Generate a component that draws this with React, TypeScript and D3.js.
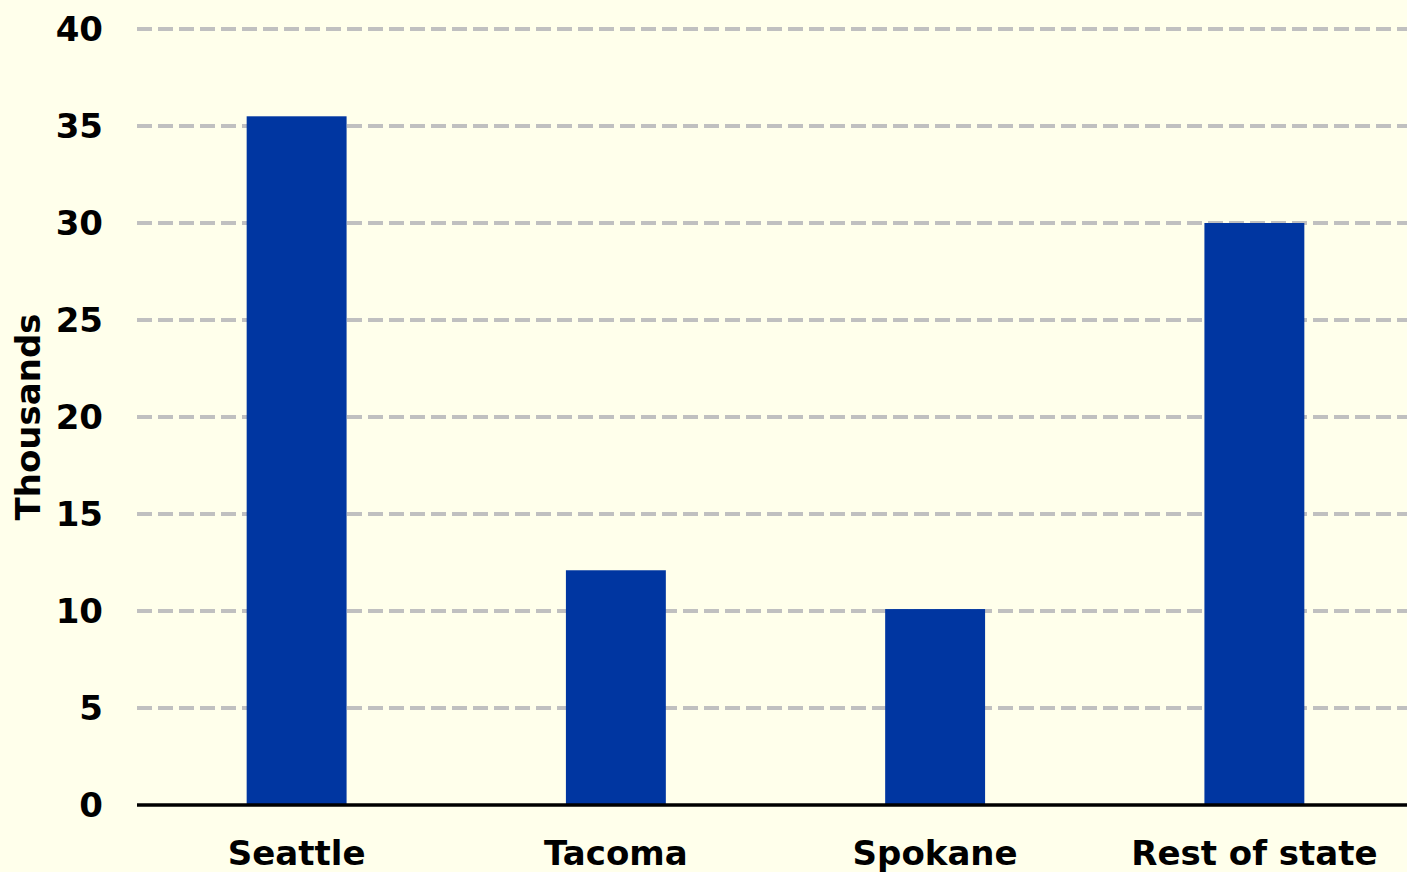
import React from "react";
import * as d3 from "d3";

const categories = ["Seattle", "Tacoma", "Spokane", "Rest of state"];
const values = [35.5, 12.1, 10.1, 30.0];
const yTicks = [0, 5, 10, 15, 20, 25, 30, 35, 40];
const yLabel = "Thousands";

const W = 1407;
const H = 872;
const M = { left: 137, right: 0, top: 29, bottom: 67 };
const FONT = "'DejaVu Sans', Verdana, sans-serif";
const FS = 34;

export default function App() {
  const x = d3
    .scaleBand<string>()
    .domain(categories)
    .range([M.left, 1414])
    .paddingInner(0.687)
    .paddingOuter(0.3435);
  const y = d3.scaleLinear().domain([0, 40]).range([H - M.bottom, M.top]);

  return (
    <svg
      width={W}
      height={H}
      style={{ position: "fixed", left: 0, top: 0, background: "#FFFFEB" }}
    >
      <rect x={0} y={0} width={W} height={H} fill="#FFFFEB" />
      {yTicks.map((t) =>
        t === 0 ? null : (
          <line
            key={"g" + t}
            x1={M.left}
            x2={W - M.right}
            y1={y(t)}
            y2={y(t)}
            stroke="#C0C0C0"
            strokeWidth={4}
            strokeDasharray="15 6"
          />
        )
      )}
      {categories.map((c, i) => (
        <rect
          key={c}
          x={x(c)}
          width={x.bandwidth()}
          y={y(values[i])}
          height={y(0) - y(values[i])}
          fill="#0036A1"
        />
      ))}
      <line
        x1={M.left}
        x2={W - M.right}
        y1={y(0)}
        y2={y(0)}
        stroke="#000"
        strokeWidth={3.5}
      />
      {yTicks.map((t) => (
        <text
          key={"t" + t}
          x={103}
          y={y(t)}
          dy="0.36em"
          textAnchor="end"
          fontFamily={FONT}
          fontWeight="bold"
          fontSize={FS}
          fill="#000"
        >
          {t}
        </text>
      ))}
      {categories.map((c) => (
        <text
          key={"c" + c}
          x={(x(c) as number) + x.bandwidth() / 2}
          y={865}
          textAnchor="middle"
          fontFamily={FONT}
          fontWeight="bold"
          fontSize={FS}
          fill="#000"
        >
          {c}
        </text>
      ))}
      <text
        transform={`translate(40, ${(M.top + H - M.bottom) / 2 + 0}) rotate(-90)`}
        textAnchor="middle"
        fontFamily={FONT}
        fontWeight="bold"
        fontSize={FS}
        fill="#000"
      >
        {yLabel}
      </text>
    </svg>
  );
}
